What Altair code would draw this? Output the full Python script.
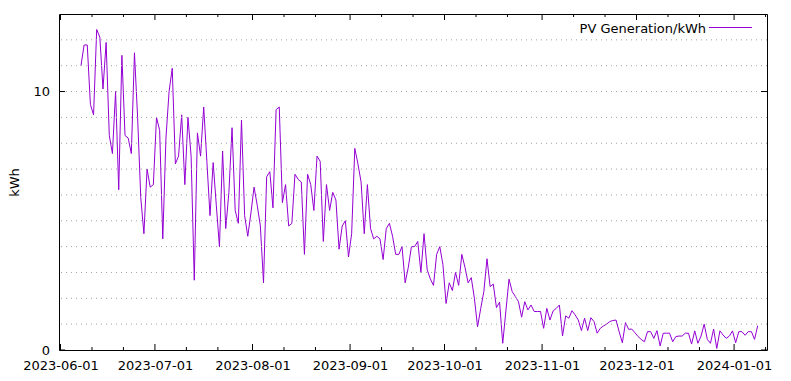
import altair as alt
import pandas as pd

SERIES = "PV Generation/kWh"
Y_TITLE = "kWh"
FIRST_DAY = "2023-06-07T12:00:00"

# daily PV generation (kWh)
kwh = [
    11.0, 11.8, 11.8, 9.5, 9.1, 12.4, 12.1, 10.1, 11.9, 8.3,
    7.6, 10.0, 6.2, 11.4, 8.3, 8.2, 7.6, 11.5, 9.0, 5.9,
    4.5, 7.0, 6.3, 6.4, 9.0, 8.5, 4.3, 8.2, 10.0, 10.9,
    7.2, 7.5, 9.1, 6.4, 9.0, 7.5, 2.7, 8.4, 7.5, 9.4,
    7.3, 5.2, 7.25,
    5.6, 4.0, 7.7, 4.7, 6.1, 8.6, 5.4, 4.9, 8.9, 5.2,
    4.4, 5.3, 6.3, 5.6, 4.8, 2.6, 6.7, 6.9, 5.5, 9.3,
    9.4, 5.7, 6.4, 4.8, 4.9, 6.8, 6.6, 6.5, 3.7, 6.8,
    6.4, 5.4, 7.5, 7.3, 4.2, 6.4, 5.4, 6.1, 5.8, 3.9,
    4.8, 5.0, 3.6,
    4.5, 7.8, 7.2, 6.5, 4.5, 6.4, 4.7, 4.3, 4.4, 4.3,
    3.5, 4.7, 4.9, 4.4, 3.7, 3.7, 4.0, 2.6, 3.2, 4.0,
    4.0, 4.2, 3.0, 4.5, 3.1, 2.75, 2.5, 3.7, 4.0, 3.3,
    1.8, 2.6, 2.3, 3.0, 2.5, 3.7, 3.2, 2.6, 2.8, 2.0,
    0.9, 1.6,
    2.26, 3.53, 2.45, 2.55, 1.64, 1.85, 0.26, 1.51, 2.74, 2.26,
    2.07, 1.87, 1.27, 1.87, 1.55, 1.74, 1.49, 1.49, 1.49, 0.84,
    1.61, 1.16, 1.51, 1.61, 1.74, 0.54, 1.32, 1.23, 1.52, 1.36,
    1.16, 0.75, 1.23, 0.75, 1.25, 1.1, 0.65, 0.84, 0.93, 1.0,
    1.1, 1.14, 1.16,
    0.7, 0.28, 1.06, 0.8, 0.81, 0.67, 0.52, 0.41, 0.32, 0.71,
    0.71, 0.45, 0.75, 0.16, 0.65, 0.65, 0.65, 0.32, 0.52, 0.54,
    0.54, 0.65, 0.65, 0.23, 0.74, 0.26, 0.54, 1.0, 0.41, 0.26,
    0.81, 0.06, 0.74, 0.58, 0.45, 0.54, 0.74, 0.28, 0.71, 0.71,
    0.57, 0.71, 0.71, 0.41, 0.94,
]

month_ticks = [
    "2023-06-01", "2023-07-01", "2023-08-01", "2023-09-01",
    "2023-10-01", "2023-11-01", "2023-12-01", "2024-01-01",
]
minor_ticks = [
    "2023-06-11", "2023-06-21", "2023-07-11", "2023-07-21",
    "2023-08-11", "2023-08-21", "2023-09-11", "2023-09-21",
    "2023-10-11", "2023-10-21", "2023-11-11", "2023-11-21",
    "2023-12-11", "2023-12-21", "2024-01-11",
]
y_labels = [0, 10]
y_grid = list(range(1, 13))
x_range = [("2023-05-31", 12, 34), ("2024-01-11", 11, 0)]
y_range = [0, 13]

W, H = 708, 336
PURPLE = "#9400D3"
FONT = "DejaVu Sans"


def dt(s, h=0, m=0):
    y, mo, d = map(int, s.split("-"))
    return alt.DateTime(year=y, month=mo, date=d, hours=h, minutes=m)


df = pd.DataFrame({
    "date": pd.date_range(FIRST_DAY, periods=len(kwh), freq="D"),
    "kwh": kwh,
})

x_scale = alt.Scale(domain=[dt(*x_range[0]), dt(*x_range[1])])
y_scale = alt.Scale(domain=y_range, nice=False, zero=True)

line = alt.Chart(df).mark_line(color=PURPLE, strokeWidth=1).encode(
    x=alt.X(
        "date:T",
        scale=x_scale,
        axis=alt.Axis(
            values=[dt(s) for s in month_ticks],
            format="%Y-%m-%d",
            title=None,
            ticks=False,
            tickSize=0,
            domain=False,
            grid=False,
            labelPadding=9,
            labelFlush=False,
            labelOverlap=False,
        ),
    ),
    y=alt.Y(
        "kwh:Q",
        scale=y_scale,
        axis=alt.Axis(
            values=y_labels,
            title=Y_TITLE,
            ticks=False,
            tickSize=0,
            domain=False,
            grid=False,
            labelPadding=9.5,
            titlePadding=11,
            titleFontWeight="normal",
            labelFlush=False,
        ),
    ),
)

grid = alt.Chart(pd.DataFrame({"g": y_grid})).mark_rule(
    color="#a0a0a0", strokeWidth=1, strokeDash=[1, 4]
).encode(y=alt.Y("g:Q", scale=y_scale))


def xticks(values, length):
    tdf = pd.DataFrame({"d": pd.to_datetime([v + "T00:00:00" for v in values])})
    base = alt.Chart(tdf).mark_rule(color="black", strokeWidth=1)
    xe = alt.X("d:T", scale=x_scale)
    bottom = base.encode(x=xe, y=alt.value(H), y2=alt.value(H - length))
    top = base.encode(x=xe, y=alt.value(0), y2=alt.value(length))
    return [bottom, top]


ydf = pd.DataFrame({"v": y_labels})
ye = alt.Y("v:Q", scale=y_scale)
ytick_l = alt.Chart(ydf).mark_rule(color="black").encode(y=ye, x=alt.value(0), x2=alt.value(6))
ytick_r = alt.Chart(ydf).mark_rule(color="black").encode(y=ye, x=alt.value(W - 6), x2=alt.value(W))

leg_df = pd.DataFrame({"series": [SERIES]})
leg_text = alt.Chart(leg_df).mark_text(
    align="right", baseline="alphabetic", font=FONT, fontSize=13, color="black"
).encode(x=alt.value(647), y=alt.value(19), text="series:N")
leg_line = alt.Chart(leg_df).mark_rule(color=PURPLE, strokeWidth=1).encode(
    x=alt.value(650), x2=alt.value(693), y=alt.value(13.5)
)

chart = alt.layer(
    line, grid, *xticks(month_ticks, 6), *xticks(minor_ticks, 3), ytick_l, ytick_r,
    leg_line, leg_text,
).properties(
    width=W,
    height=H,
    autosize=alt.AutoSizeParams(type="none"),
    padding={"left": 51, "top": 6, "right": 8, "bottom": 22},
    background="white",
).configure_view(
    stroke="black", strokeWidth=1
).configure_axis(
    labelFont=FONT, labelFontSize=13, labelColor="black",
    titleFont=FONT, titleFontSize=13, titleColor="black",
)

chart.save("out.html", embed_options={"renderer": "svg", "actions": False})
